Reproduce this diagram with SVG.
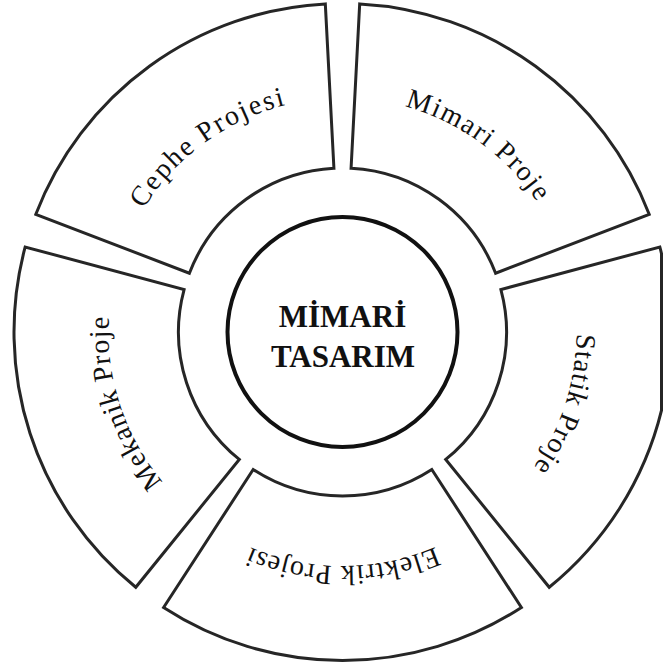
<svg xmlns="http://www.w3.org/2000/svg" width="663" height="666" viewBox="0 0 663 666">
<style>
.seg{fill:#fff;stroke:#262626;stroke-width:3;stroke-linejoin:miter}
.hub{fill:#fff;stroke:#111;stroke-width:4}
.lbl{font-family:"Liberation Serif","Times New Roman",serif;font-size:28px;fill:#111;letter-spacing:1px}
.ttl{font-family:"Liberation Serif","Times New Roman",serif;font-size:31px;font-weight:bold;fill:#111;text-anchor:middle}
</style>
<defs>
<path id="pMimari" d="M 247.32 118.23 A 234 234 0 0 1 575.22 356.46" fill="none"/>
<path id="pStatik" d="M 516.39 175.42 A 234 234 0 0 1 391.15 560.89" fill="none"/>
<path id="pElektrik" d="M 545.15 449 A 234 234 0 0 1 139.85 449" fill="none"/>
<path id="pMekanik" d="M 293.85 560.89 A 234 234 0 0 1 168.61 175.42" fill="none"/>
<path id="pCephe" d="M 109.78 356.46 A 234 234 0 0 1 437.68 118.23" fill="none"/>
</defs>
<rect width="663" height="666" fill="#fff"/>
<g id="connectors"></g>
<g id="mimari-proje">
<path class="seg" d="M 359.69 3.95 A 328.5 328.5 0 0 1 649.18 214.28 L 495.61 273.23 A 164 164 0 0 0 351.08 168.22 Z"/>
<text class="lbl" style="letter-spacing:1.5px"><textPath href="#pMimari" startOffset="50%" text-anchor="middle">Mimari Proje</textPath></text>
</g>
<g id="statik-proje">
<path class="seg" d="M 659.81 246.98 A 328.5 328.5 0 0 1 661.5 253.57 L 661.5 410.43 A 328.5 328.5 0 0 1 549.23 587.29 L 445.71 459.45 A 164 164 0 0 0 500.91 289.55 Z"/>
<text class="lbl"><textPath href="#pStatik" startOffset="50%" text-anchor="middle">Statik Proje</textPath></text>
</g>
<g id="elektrik-projesi">
<path class="seg" d="M 521.41 607.5 A 328.5 328.5 0 0 1 163.59 607.5 L 253.18 469.54 A 164 164 0 0 0 431.82 469.54 Z"/>
<text class="lbl"><textPath href="#pElektrik" startOffset="50%" text-anchor="middle">Elektrik Projesi</textPath></text>
</g>
<g id="mekanik-proje">
<path class="seg" d="M 135.77 587.29 A 328.5 328.5 0 0 1 25.19 246.98 L 184.09 289.55 A 164 164 0 0 0 239.29 459.45 Z"/>
<text class="lbl"><textPath href="#pMekanik" startOffset="50%" text-anchor="middle">Mekanik Proje</textPath></text>
</g>
<g id="cephe-projesi">
<path class="seg" d="M 35.82 214.28 A 328.5 328.5 0 0 1 325.31 3.95 L 333.92 168.22 A 164 164 0 0 0 189.39 273.23 Z"/>
<text class="lbl" style="letter-spacing:2px"><textPath href="#pCephe" startOffset="50%" text-anchor="middle">Cephe Projesi</textPath></text>
</g>
<g id="mimari-tasarim">
<circle class="hub" cx="342.5" cy="332" r="115"/>
<text class="ttl" x="342.5" y="326.5">MİMARİ</text>
<text class="ttl" x="343" y="366.7">TASARIM</text>
</g>
</svg>
